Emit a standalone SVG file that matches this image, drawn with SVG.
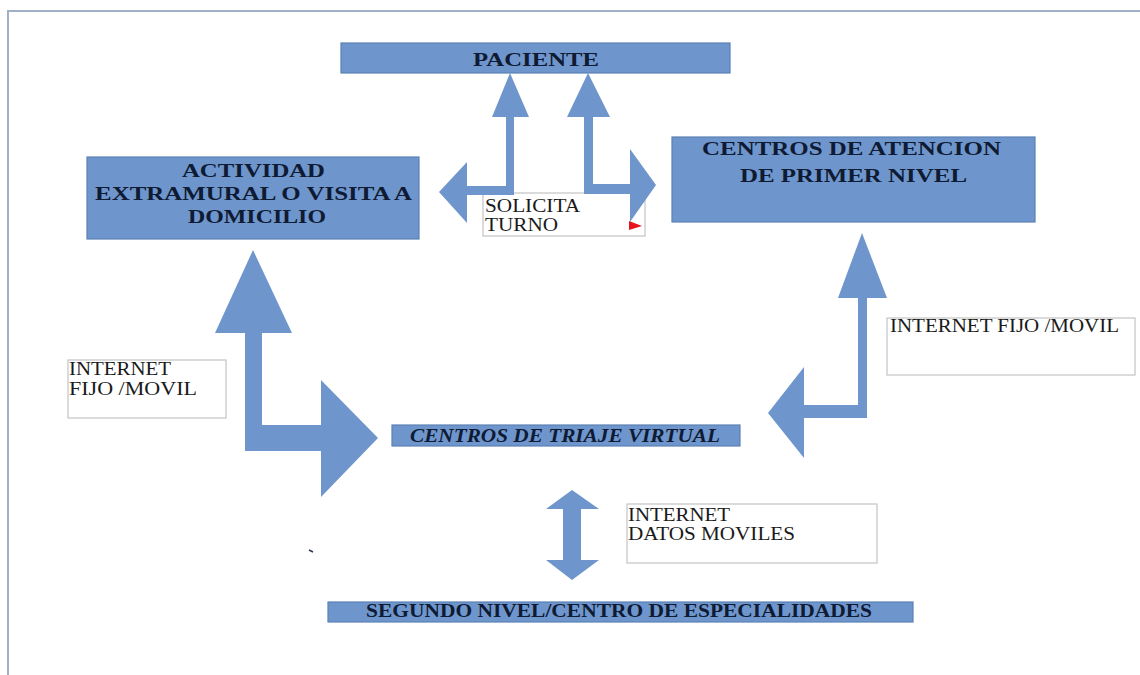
<svg xmlns="http://www.w3.org/2000/svg" width="1140" height="675" viewBox="0 0 1140 675">
<style>
.box{fill:#6e96cd;stroke:#5b80b3;stroke-width:1.2}
.tbox{fill:#fff;stroke:#c4c4c4;stroke-width:1.2}
.arr{fill:#6e96cd;stroke:none}
.bt{font-family:"Liberation Serif",serif;font-weight:bold;fill:#0f1a33;font-size:18px}
.nt{font-family:"Liberation Serif",serif;fill:#1a1a1a;font-size:18px}
.it{font-style:italic}
</style>
<rect x="0" y="0" width="1140" height="675" fill="#fff"/>
<path d="M8,675 V11 H1140" fill="none" stroke="#9fb0c7" stroke-width="2"/>
<g id="paciente">
<rect class="box" x="341" y="43" width="389" height="30"/>
<text class="bt" x="473" y="66" font-size="21" textLength="126" lengthAdjust="spacingAndGlyphs">PACIENTE</text>
</g>
<g id="actividad">
<rect class="box" x="87" y="157" width="332" height="82"/>
<text class="bt" x="182" y="177" textLength="143" lengthAdjust="spacingAndGlyphs">ACTIVIDAD</text>
<text class="bt" x="95" y="200" textLength="317" lengthAdjust="spacingAndGlyphs">EXTRAMURAL O VISITA A</text>
<text class="bt" x="188" y="223" textLength="138" lengthAdjust="spacingAndGlyphs">DOMICILIO</text>
</g>
<g id="centros-atencion">
<rect class="box" x="672" y="137" width="363" height="85"/>
<text class="bt" x="702" y="155" textLength="299" lengthAdjust="spacingAndGlyphs">CENTROS DE ATENCION</text>
<text class="bt" x="740" y="182" textLength="227" lengthAdjust="spacingAndGlyphs">DE PRIMER NIVEL</text>
</g>
<g id="triaje">
<rect class="box" x="392" y="425" width="348" height="21"/>
<text class="bt it" x="410" y="442" font-size="16.5" textLength="310" lengthAdjust="spacingAndGlyphs">CENTROS DE TRIAJE VIRTUAL</text>
</g>
<g id="segundo-nivel">
<rect class="box" x="328" y="602" width="585" height="20"/>
<text class="bt" x="366" y="617" font-size="16.5" textLength="506" lengthAdjust="spacingAndGlyphs">SEGUNDO NIVEL/CENTRO DE ESPECIALIDADES</text>
</g>
<g id="solicita-turno">
<rect class="tbox" x="483" y="193" width="162" height="43"/>
<text class="nt" x="485" y="212" textLength="95" lengthAdjust="spacingAndGlyphs">SOLICITA</text>
<text class="nt" x="485" y="231" textLength="73" lengthAdjust="spacingAndGlyphs">TURNO</text>
</g>
<g id="internet-izq">
<rect class="tbox" x="68" y="360" width="158" height="58"/>
<text class="nt" x="69" y="375" textLength="102" lengthAdjust="spacingAndGlyphs">INTERNET</text>
<text class="nt" x="69" y="395" textLength="128" lengthAdjust="spacingAndGlyphs">FIJO /MOVIL</text>
</g>
<g id="internet-der">
<rect class="tbox" x="887" y="318" width="248" height="57"/>
<text class="nt" x="890" y="332" textLength="229" lengthAdjust="spacingAndGlyphs">INTERNET FIJO /MOVIL</text>
</g>
<g id="internet-datos">
<rect class="tbox" x="627" y="504" width="250" height="59"/>
<text class="nt" x="628" y="521" textLength="102" lengthAdjust="spacingAndGlyphs">INTERNET</text>
<text class="nt" x="628" y="540" textLength="167" lengthAdjust="spacingAndGlyphs">DATOS MOVILES</text>
</g>
<g id="connectors">
<polygon class="arr" points="510,73 529,117 514,117 514,195 467,195 467,223 439,192 467,162 467,186 506,186 506,117 492,117"/>
<polygon class="arr" points="588,73 610,117 593,117 593,184 630,184 630,149 656,185 630,222 630,194 584,194 584,117 567,117"/>
<polygon class="arr" points="253,250 292,333 262,333 262,425 321,425 321,380 378,438 321,497 321,451 245,451 245,333 215,333"/>
<polygon class="arr" points="862,233 887,298 867,298 867,418 804,418 804,458 768,413 804,367 804,405 858,405 858,298 838,298"/>
<polygon class="arr" points="572,490 599,509 581,509 581,560 599,560 572,580 546,560 563,560 563,509 546,509"/>
</g>
<polygon points="629,221 642,226 629,230" fill="#e8141c"/>
<line x1="309" y1="550" x2="313" y2="552" stroke="#2a3550" stroke-width="1.5"/>
</svg>
